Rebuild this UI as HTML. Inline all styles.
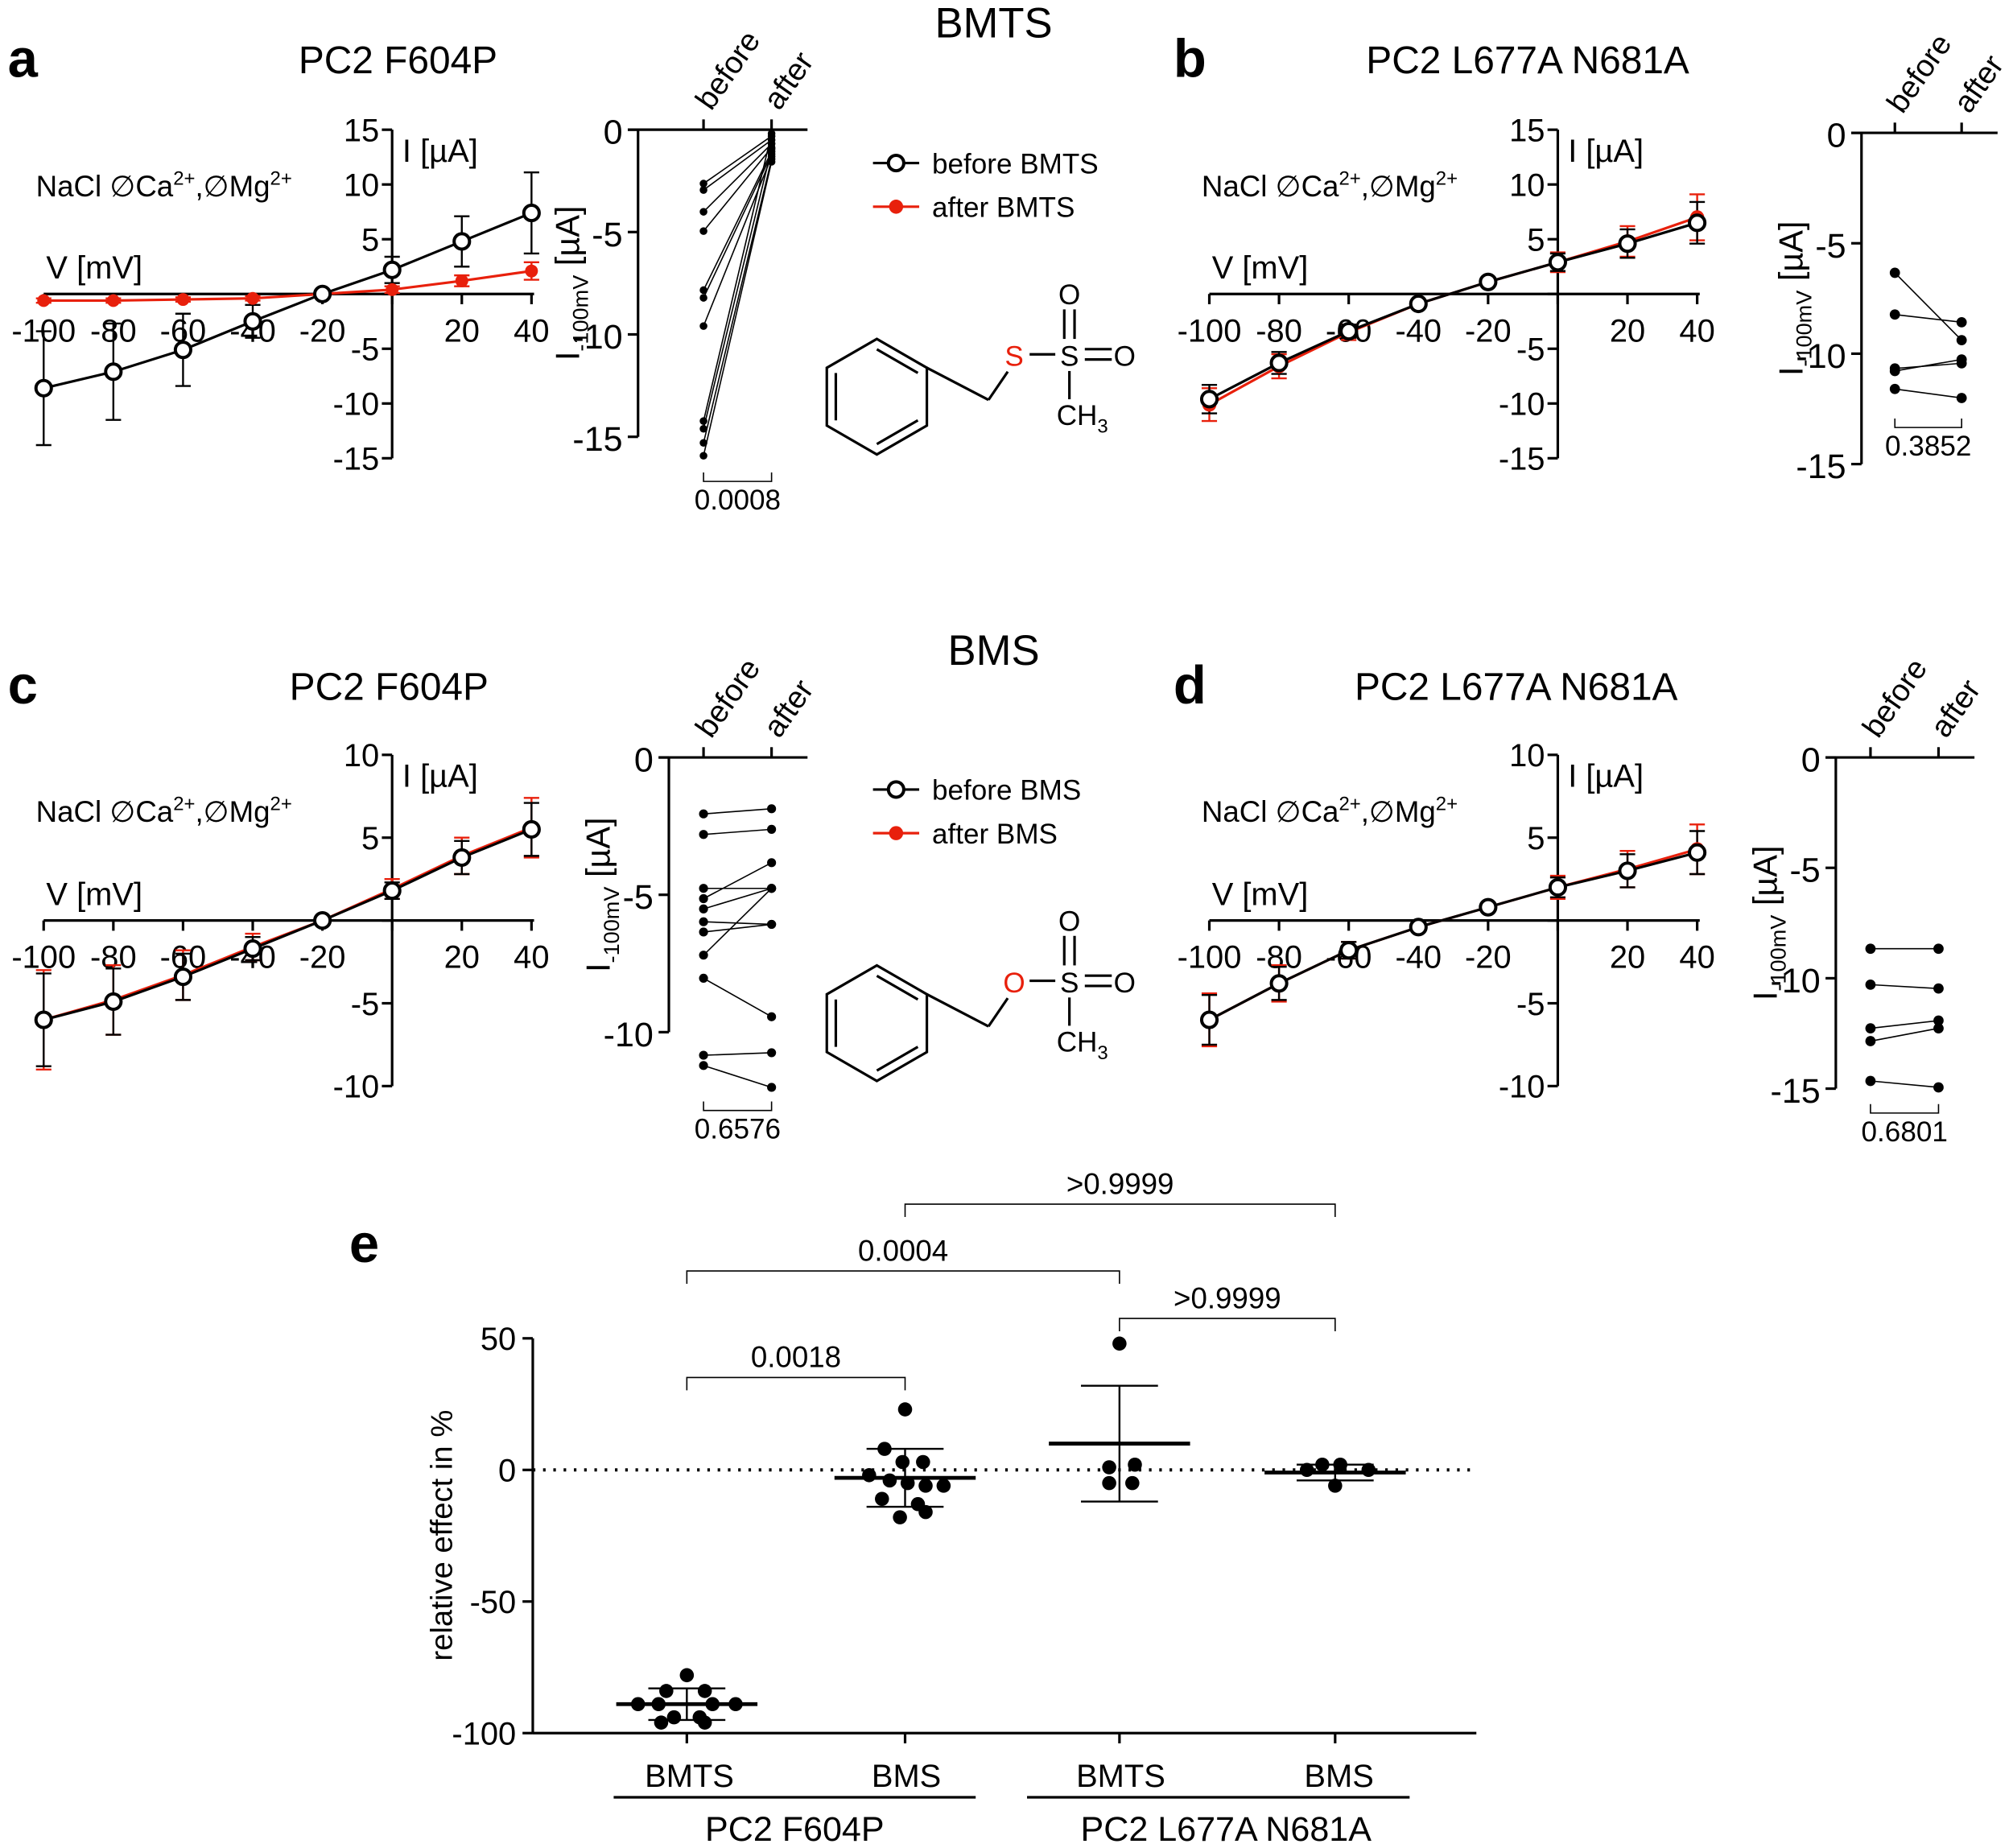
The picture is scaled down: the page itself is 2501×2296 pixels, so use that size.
<!DOCTYPE html>
<html><head><meta charset="utf-8"><style>html,body{margin:0;padding:0;background:#fff}svg{display:block}text{font-family:"Liberation Sans",Arial,sans-serif;fill:#000}</style></head>
<body>
<svg id="s" width="2501" height="2296" viewBox="0 0 1568 1439.5" xmlns="http://www.w3.org/2000/svg"></svg>
<script>
let o='';
const L=(x1,y1,x2,y2,c='#000',w=2,ex='')=>o+=`<line x1="${x1}" y1="${y1}" x2="${x2}" y2="${y2}" stroke="${c}" stroke-width="${w}" ${ex}/>`;
const T=(x,y,t,s=24,a='middle',ex='')=>o+=`<text x="${x}" y="${y}" font-size="${s}" text-anchor="${a}" ${ex}>${t}</text>`;
const C=(x,y,r,f,st='none',w=0)=>o+=`<circle cx="${x}" cy="${y}" r="${r}" fill="${f}" stroke="${st}" stroke-width="${w}"/>`;
const P=(pts,c,w=2)=>o+=`<polyline points="${pts.map(p=>p.join(',')).join(' ')}" fill="none" stroke="${c}" stroke-width="${w}"/>`;
const xs=[-100,-80,-60,-40,-20,0,20,40];
function iv(ox,ay,ticks,scale,blk,red,eb,ebr,title,letter,sub,tx){
  const XX=v=>ox+(v+100)*380/140, Y=v=>ay-v*scale;
  const yx=XX(0);
  L(ox,ay,XX(40)+2,ay);
  L(yx,Y(ticks[ticks.length-1]),yx,Y(ticks[0]));
  ticks.forEach(t=>{L(yx-8,Y(t),yx,Y(t));if(t!=0)T(yx-10,Y(t)+9,t,25,'end');});
  xs.forEach(v=>{L(XX(v),ay,XX(v),ay+8);if(v!=0)T(XX(v),ay+37,v,25);});
  T(yx+8,Y(ticks[0])+25,'I [µA]',25,'start');
  T(ox+2,ay-12,'V [mV]',25,'start');
  o+=`<text x="${ox-6}" y="${Y(ticks[0])+52}" font-size="23">NaCl ∅Ca<tspan font-size="15" dy="-9">2+</tspan><tspan dy="9">,∅Mg</tspan><tspan font-size="15" dy="-9">2+</tspan></text>`;
  T(tx,57+sub,title,30);
  T(ox-28,60+sub,letter,42,'start','font-weight="bold"');
  const bp=blk.map((v,i)=>[XX(xs[i]),Y(v)]), rp=red.map((v,i)=>[XX(xs[i]),Y(v)]);
  rp.forEach((p,i)=>{L(p[0],Y(red[i]+ebr[i]),p[0],Y(red[i]-ebr[i]),'#e8200c',1.5);L(p[0]-6,Y(red[i]+ebr[i]),p[0]+6,Y(red[i]+ebr[i]),'#e8200c',1.5);L(p[0]-6,Y(red[i]-ebr[i]),p[0]+6,Y(red[i]-ebr[i]),'#e8200c',1.5);});
  bp.forEach((p,i)=>{L(p[0],Y(blk[i]+eb[i]),p[0],Y(blk[i]-eb[i]),'#000',1.5);L(p[0]-6,Y(blk[i]+eb[i]),p[0]+6,Y(blk[i]+eb[i]),'#000',1.5);L(p[0]-6,Y(blk[i]-eb[i]),p[0]+6,Y(blk[i]-eb[i]),'#000',1.5);});
  return [bp,rp];
}
let [b,r]=iv(34,229,[15,10,5,0,-5,-10,-15],8.53,[-8.6,-7.1,-5.1,-2.5,0,2.2,4.8,7.4],[-0.6,-0.6,-0.5,-0.4,0,0.4,1.2,2.1],[5.2,4.4,3.3,1.5,0,1.2,2.3,3.7],[0.2,0.2,0.2,0.2,0,0.3,0.5,0.8],'PC2 F604P','a',0,310);
P(r,'#e8200c');r.forEach(p=>C(p[0],p[1],5,'#e8200c'));P(b,'#000');b.forEach(p=>C(p[0],p[1],6,'#fff','#000',2.5));
[b,r]=iv(942,229,[15,10,5,0,-5,-10,-15],8.53,[-9.6,-6.3,-3.4,-0.9,1.1,2.9,4.6,6.5],[-10.1,-6.6,-3.5,-0.9,1.1,2.9,4.8,7.0],[1.3,1.0,0.6,0.3,0.2,0.8,1.3,1.9],[1.5,1.1,0.7,0.3,0.2,0.9,1.4,2.1],'PC2 L677A N681A','b',0,1190);
P(r,'#e8200c');r.forEach(p=>C(p[0],p[1],5.5,'#e8200c'));P(b,'#000');b.forEach(p=>C(p[0],p[1],6,'#fff','#000',2.5));
[b,r]=iv(34,717,[10,5,0,-5,-10],12.9,[-6.0,-4.9,-3.4,-1.7,0,1.8,3.8,5.5],[-6.0,-4.8,-3.3,-1.6,0,1.9,3.9,5.6],[2.8,2.0,1.4,0.7,0.2,0.5,1.0,1.6],[3.0,2.1,1.5,0.8,0.2,0.6,1.1,1.8],'PC2 F604P','c',488,303);
P(r,'#e8200c');r.forEach(p=>C(p[0],p[1],5.5,'#e8200c'));P(b,'#000');b.forEach(p=>C(p[0],p[1],6,'#fff','#000',2.5));
[b,r]=iv(942,717,[10,5,0,-5,-10],12.9,[-6.0,-3.8,-1.8,-0.4,0.8,2.0,3.0,4.1],[-6.0,-3.8,-1.8,-0.4,0.8,2.0,3.1,4.3],[1.5,1.0,0.5,0.2,0.2,0.6,1.0,1.3],[1.6,1.1,0.5,0.2,0.2,0.7,1.1,1.5],'PC2 L677A N681A','d',488,1181);
P(r,'#e8200c');r.forEach(p=>C(p[0],p[1],5.5,'#e8200c'));P(b,'#000');b.forEach(p=>C(p[0],p[1],6,'#fff','#000',2.5));
T(774,29,'BMTS',33);T(774,518,'BMS',33);
function pair(ax,y0,ticks,scale,bx,axx,pairs,pv,bry,r){
  const Y=v=>y0-v*scale;
  L(ax-8,y0,axx+28,y0);
  L(ax,y0,ax,Y(ticks[ticks.length-1]));
  ticks.forEach(t=>{L(ax-8,Y(t),ax,Y(t));T(ax-12,Y(t)+11,t,27,'end');});
  [bx,axx].forEach(x=>L(x,y0,x,y0-8));
  T(bx+6,y0-14,'before',24,'start',`transform="rotate(-55 ${bx+6} ${y0-14})"`);
  T(axx+6,y0-14,'after',24,'start',`transform="rotate(-55 ${axx+6} ${y0-14})"`);
  pairs.forEach(([a,c])=>{L(bx,a,axx,c,'#000',1);C(bx,a,r,'#000');C(axx,c,r,'#000');});
  o+=`<path d="M${bx} ${bry} v7 H${axx} v-7" fill="none" stroke="#000" stroke-width="1"/>`;
  T((bx+axx)/2,bry+29,pv,22);
  const my=(y0+Y(ticks[ticks.length-1]))/2;
  o+=`<text transform="translate(${ax-46} ${my}) rotate(-90)" font-size="26" text-anchor="middle">I<tspan font-size="17" dy="7">-100mV</tspan><tspan dy="-7"> [µA]</tspan></text>`;
}
pair(497,101,[0,-5,-10,-15],15.95,548,601,[[143,106],[148,109],[165,112],[180,115],[226,118],[232,120],[254,122],[328,104],[334,116],[345,124],[355,126]],'0.0008',368,3);
pair(1450,103.5,[0,-5,-10,-15],17.2,1476,1528,[[212.5,265],[245,251],[287,283],[289,280],[303,310]],'0.3852',326,4);
pair(521,590,[0,-5,-10],21.4,548,601,[[634,630],[650,646],[692,692],[700,672],[708,692],[718,720],[726,720],[744,692],[762,792],[822,820],[830,847]],'0.6576',858,3.5);
pair(1430,590,[0,-5,-10,-15],17.2,1457,1510,[[739,739],[767,770],[801,795],[811,801],[842,847]],'0.6801',860,4);
function leg(y,t1,t2){L(680,y,716,y,'#000',2);C(698,y,6,'#fff','#000',2.5);T(726,y+8,t1,22,'start');L(680,y+34,716,y+34,'#e8200c',2);C(698,y+34,5.5,'#e8200c');T(726,y+42,t2,22,'start');}
leg(127,'before BMTS','after BMTS');leg(615,'before BMS','after BMS');
function mol(cy,atom,col){
  const cx=683,R=45;let pts=[];for(let i=0;i<6;i++){const a=Math.PI/180*(60*i+30);pts.push([cx+R*Math.cos(a),cy+R*Math.sin(a)]);}
  o+=`<polygon points="${pts.map(p=>p.join(',')).join(' ')}" fill="none" stroke="#000" stroke-width="2"/>`;
  [[0,1],[2,3],[4,5]].forEach(([i,j])=>{const a=Math.PI/180*(60*i+30),c=Math.PI/180*(60*j+30);const f=0.82;L(cx+(R*f)*Math.cos(a),cy+(R*f)*Math.sin(a),cx+(R*f)*Math.cos(c),cy+(R*f)*Math.sin(c));});
  const p=pts[5];
  L(p[0],p[1],p[0]+48,p[1]+25);
  const ch=[p[0]+48,p[1]+25];
  L(ch[0],ch[1],ch[0]+15,ch[1]-22);
  T(790,cy-24,atom,22,'middle',`style="fill:${col}"`);
  L(802,cy-33,822,cy-33);
  T(833,cy-24,'S',22);
  L(829,cy-45,829,cy-68);L(837,cy-45,837,cy-68);T(833,cy-72,'O',22);
  L(845,cy-37,866,cy-37);L(845,cy-29,866,cy-29);T(876,cy-24,'O',22);
  L(833,cy-20,833,cy+2);o+=`<text x="823" y="${cy+22}" font-size="22">CH<tspan font-size="15" dy="6">3</tspan></text>`;
}
mol(309,'S','#e8200c');mol(797,'O','#e8200c');
const E=v=>1145-v*2.05;
T(272,983,'e',42,'start','font-weight="bold"');
L(415,E(50),415,1350);[50,0,-50,-100].forEach(t=>{L(407,E(t),415,E(t));T(402,E(t)+9,t,25,'end');});
L(415,1350,1150,1350);[535,705,872,1040].forEach(x=>L(x,1350,x,1358));
L(415,1145,1150,1145,'#000',2.5,'stroke-dasharray="2,6"');
o+=`<text transform="translate(352 1196) rotate(-90)" font-size="24" text-anchor="middle">relative effect in %</text>`;
T(537,1392,'BMTS',25);T(706,1392,'BMS',25);T(873,1392,'BMTS',25);T(1043,1392,'BMS',25);
L(478,1400,760,1400);L(800,1400,1098,1400);T(619,1434,'PC2 F604P',27);T(955,1434,'PC2 L677A N681A',27);
function br(x1,x2,y,t){o+=`<path d="M${x1} ${y+10} V${y} H${x2} V${y+10}" fill="none" stroke="#000" stroke-width="1"/>`;T((x1+x2)/2,y-8,t,23);}
br(535,705,1073,'0.0018');br(535,872,990,'0.0004');br(705,1040,938,'&gt;0.9999');br(872,1040,1027,'&gt;0.9999');
function grp(x,m,sd,pts,hw){L(x-hw,E(m),x+hw,E(m),'#000',3);L(x,E(m+sd),x,E(m-sd),'#000',1.5);L(x-30,E(m+sd),x+30,E(m+sd),'#000',1.5);L(x-30,E(m-sd),x+30,E(m-sd),'#000',1.5);pts.forEach(p=>C(x+p[0],E(p[1]),5.5,'#000'));}
grp(535,-89,6,[[0,-78],[-16,-84],[14,-84],[-38,-89],[-22,-89],[20,-89],[38,-89],[-10,-94],[10,-94],[-20,-96],[14,-96]],55);
grp(705,-3,11,[[0,23],[-16,8],[-2,3],[14,3],[-28,-2],[-12,-4],[2,-5],[16,-6],[30,-6],[-18,-11],[10,-13],[-4,-18],[16,-16]],55);
grp(872,10,22,[[0,48],[-8,1],[12,2],[-8,-5],[10,-5]],55);
grp(1040,-1,3,[[-10,2],[4,2],[-22,0],[26,0],[0,-6]],55);
document.getElementById('s').innerHTML=o;
</script>
</body></html>
